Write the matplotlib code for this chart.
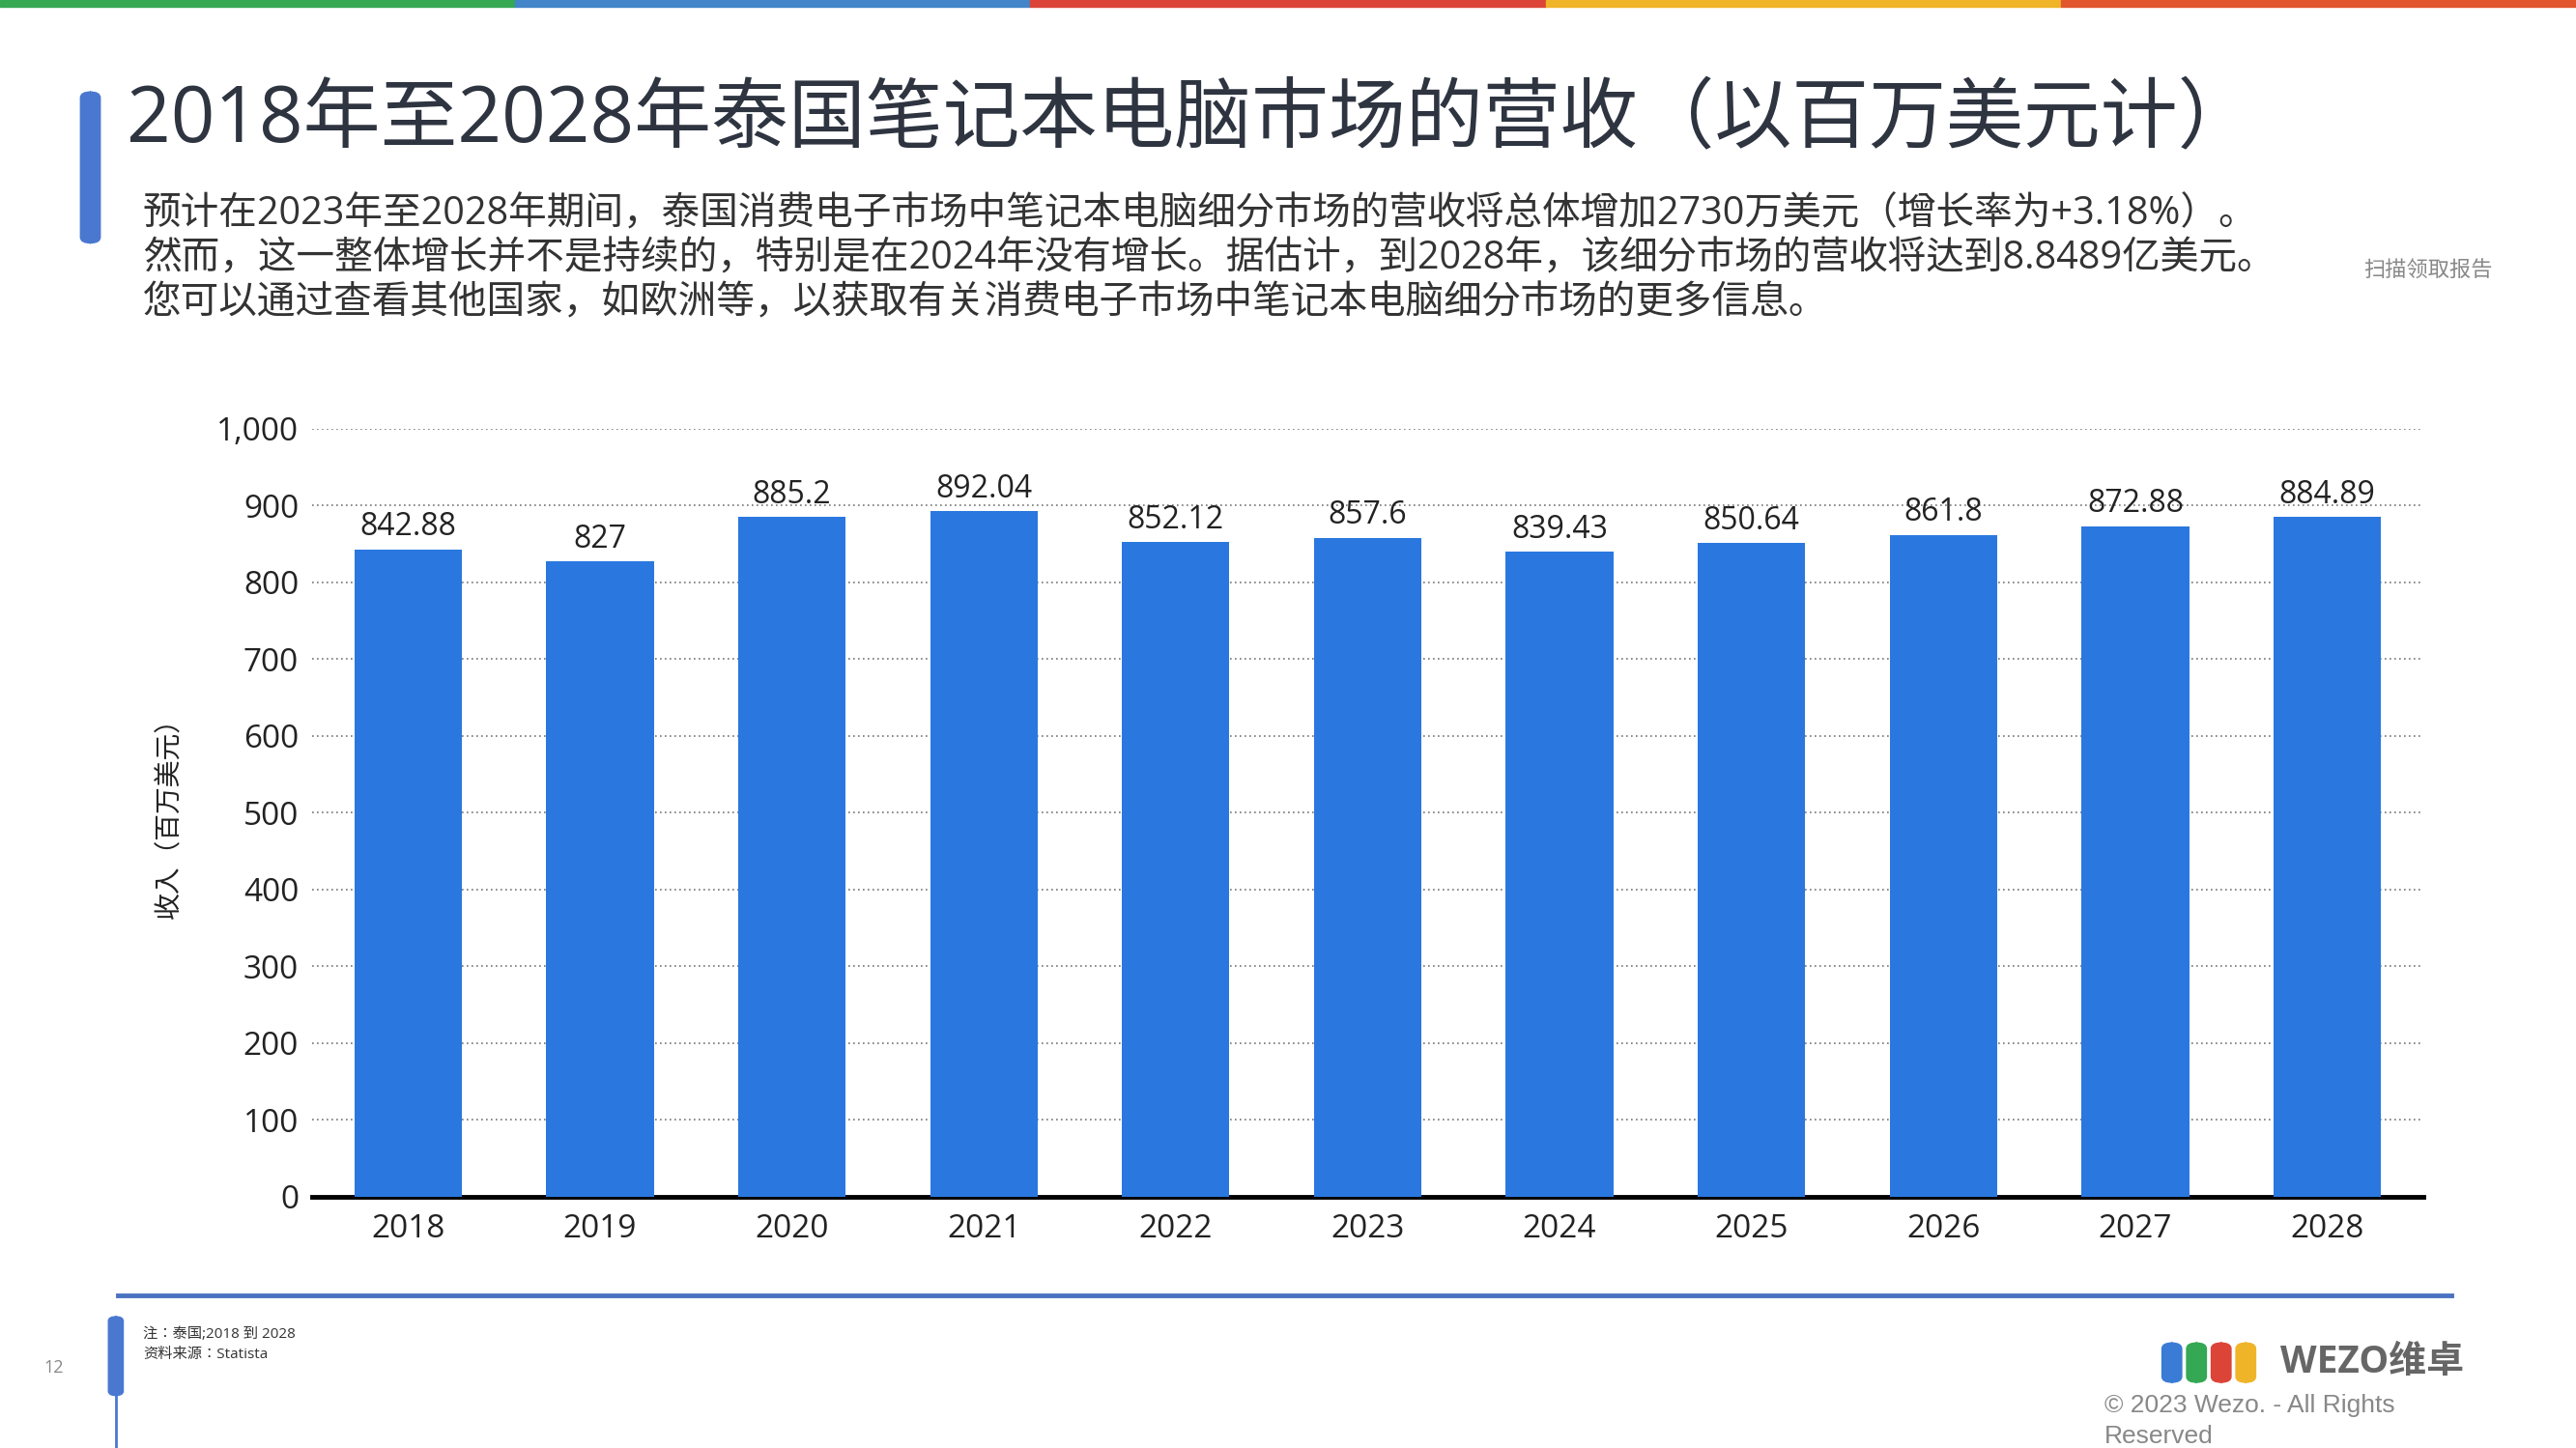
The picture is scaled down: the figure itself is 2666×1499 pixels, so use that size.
import matplotlib.pyplot as plt
from matplotlib import font_manager as fm
from matplotlib.patches import FancyBboxPatch, Rectangle

years = ['2018', '2019', '2020', '2021', '2022', '2023', '2024', '2025', '2026', '2027', '2028']
revenue = [842.88, 827, 885.2, 892.04, 852.12, 857.6, 839.43, 850.64, 861.8, 872.88, 884.89]
yticks = [0, 100, 200, 300, 400, 500, 600, 700, 800, 900, 1000]

# find a sans CJK font that matplotlib actually knows; Latin glyphs come from Open Sans
cjk = [f.name for f in fm.fontManager.ttflist if 'CJK' in f.name and 'Sans' in f.name]
sc = [n for n in cjk if 'SC' in n]
cjk_name = (sc or cjk or ['DejaVu Sans'])[0]
plt.rcParams['font.family'] = ['Open Sans', cjk_name, 'DejaVu Sans']

W, H = 1568, 882
fig = plt.figure(figsize=(26.66, 14.99), dpi=100)

def fx(x):
    return x / W

def fy(y):
    return 1 - y / H

# top colour strip
strip = ['#34a853', '#4285c8', '#db4437', '#f0b429', '#e2562d']
for i, c in enumerate(strip):
    fig.patches.append(Rectangle((i / 5, fy(4)), 0.2, 4 / H, transform=fig.transFigure,
                                 color=c, zorder=5))

# title accent bar
fig.patches.append(FancyBboxPatch((fx(49), fy(148)), 12 / W, 92 / H, transform=fig.transFigure,
                                  boxstyle='round,pad=0,rounding_size=0.004', color='#4a78d0'))
fig.text(fx(77), fy(74), '2018年至2028年泰国笔记本电脑市场的营收（以百万美元计）',
         fontsize=57.5, color='#2e3440', va='center')
sub = ['预计在2023年至2028年期间，泰国消费电子市场中笔记本电脑细分市场的营收将总体增加2730万美元（增长率为+3.18%）。',
       '然而，这一整体增长并不是持续的，特别是在2024年没有增长。据估计，到2028年，该细分市场的营收将达到8.8489亿美元。',
       '您可以通过查看其他国家，如欧洲等，以获取有关消费电子市场中笔记本电脑细分市场的更多信息。']
for i, s in enumerate(sub):
    fig.text(fx(87), fy(131 + 27 * i), s, fontsize=28.5, color='#333333', va='center')
fig.text(fx(1517), fy(165), '扫描领取报告', fontsize=16, color='#888888', va='center', ha='right')

# chart
ax = fig.add_axes([fx(190), fy(729), fx(1475) - fx(190), (729 - 261) / H])
ax.bar(years, revenue, width=0.56, color='#2a78df', zorder=3)
for i, v in enumerate(revenue):
    ax.text(i, v + 8, f'{v:g}', ha='center', va='bottom', fontsize=23, color='#222222')
ax.set_ylim(0, 1000)
ax.set_xlim(-0.5, 10.5)
ax.set_yticks(yticks)
ax.set_yticklabels([f'{t:,}' for t in yticks])
ax.grid(axis='y', linestyle=(0, (1, 2)), color='#777777', linewidth=1.2, zorder=0)
for s in ['top', 'right', 'left']:
    ax.spines[s].set_visible(False)
ax.spines['bottom'].set_linewidth(3.5)
ax.spines['bottom'].set_color('black')
ax.tick_params(axis='both', length=0, labelsize=24, colors='#222222')
ax.tick_params(axis='x', pad=12)
ax.tick_params(axis='y', pad=10)
ax.set_ylabel('收入（百万美元）', fontsize=20, color='#222222', labelpad=24)

# footer
fig.lines.append(plt.Line2D([fx(72), fx(1492)], [fy(789), fy(789)], transform=fig.transFigure,
                            color='#4a72c0', linewidth=3.5))
fig.patches.append(FancyBboxPatch((fx(66), fy(850)), 9 / W, 48 / H, transform=fig.transFigure,
                                  boxstyle='round,pad=0,rounding_size=0.003', color='#4a78d0'))
fig.lines.append(plt.Line2D([fx(70.5), fx(70.5)], [fy(850), 0], transform=fig.transFigure,
                            color='#4a78d0', linewidth=2))
fig.text(fx(87), fy(813), '注：泰国;2018 到 2028', fontsize=11, color='#333333', va='center')
fig.text(fx(87), fy(825), '资料来源：Statista', fontsize=11, color='#333333', va='center')
fig.text(fx(33), fy(833), '12', fontsize=13, color='#888888', va='center', ha='center')

# logo
logo_cols = ['#3a7bd5', '#34a853', '#db4437', '#f0b429']
for i, c in enumerate(logo_cols):
    fig.patches.append(FancyBboxPatch((fx(1316 + i * 15), fy(842)), 12 / W, 24 / H,
                                      transform=fig.transFigure,
                                      boxstyle='round,pad=0,rounding_size=0.004', color=c))
fig.text(fx(1388), fy(830), 'WEZO维卓', fontsize=28, fontweight='bold', color='#666666', va='center')
fig.text(fx(1281), fy(856), '© 2023 Wezo. - All Rights', fontsize=19, color='#888888', va='center',
         family='Liberation Sans')
fig.text(fx(1281), fy(875), 'Reserved', fontsize=19, color='#888888', va='center',
         family='Liberation Sans')

fig.savefig('out.png', dpi=100)
